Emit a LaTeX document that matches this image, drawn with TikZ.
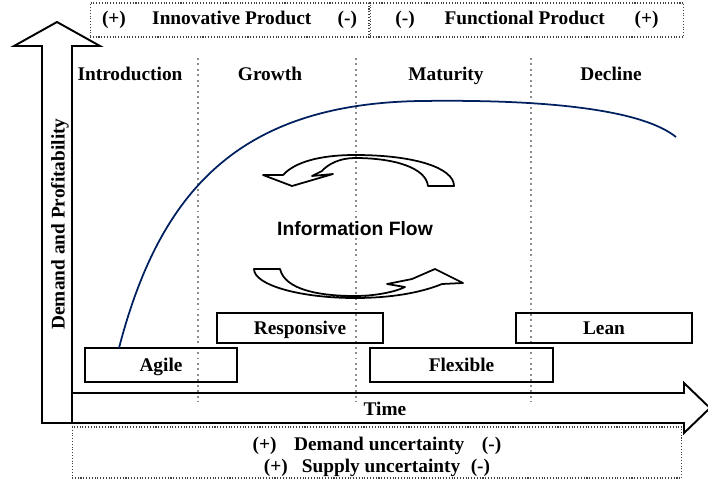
\documentclass[tikz,border=0pt]{standalone}
\usepackage{fontspec}
\setmainfont{Liberation Serif}
\newfontfamily\arialfont{Liberation Sans}
\usepackage{tikz}
\usetikzlibrary{positioning,calc}

\begin{document}
\begin{tikzpicture}[x=0.02cm, y=-0.02cm,
    txt/.style={font=\bfseries\fontsize{11}{12.5}\selectfont},
    chainbox/.style={draw, rectangle, line width=1.1pt, text height=7.5pt, text depth=0pt, txt},
    dotbox/.style={draw=black!75, densely dotted, line width=0.6pt, rectangle, inner sep=0pt, txt},
    phaseline/.style={draw=black!45, dotted, line width=1.1pt},
    bigarrow/.style={draw, line width=1.1pt, line join=miter},
    flowarrow/.style={draw, line width=1pt, line join=round}]
    \useasboundingbox (0,0) rectangle (708,481);

    % Product type
    \node [dotbox, minimum width=5.58cm, minimum height=0.68cm, text height=7.5pt, text depth=2pt] (innovbox) at (229.5,20) {(+)\hspace{15pt}Innovative Product\hspace{15pt}(-)};
    \node [dotbox, minimum width=6.28cm, minimum height=0.68cm, text height=7.5pt, text depth=2pt, right=0cm of innovbox] (funcbox) {(-)\hspace{17pt}Functional Product\hspace{17pt}(+)};

    % Axes
    \draw [bigarrow] (42,423) -- (42,46) -- (14,46) -- (57,22) -- (100,46) -- (72,46) -- (72,423) -- cycle;
    \draw [bigarrow] (72,393) -- (684,393) -- (684,383) -- (710,408) -- (684,433) -- (684,423) -- (72,423);
    \node [txt, rotate=90] (yaxis) at (60,224) {Demand and Profitability};
    \node [txt, anchor=base] (time) at (385,415) {Time};

    % Phases
    \foreach \x in {198,356,531}
        \draw [phaseline] (\x,58) -- (\x,402);
    \node [txt, anchor=base] (intro) at (130,80) {Introduction};
    \node [txt, anchor=base] (growth) at (270,80) {Growth};
    \node [txt, anchor=base] (maturity) at (446,80) {Maturity};
    \node [txt, anchor=base] (decline) at (611,80) {Decline};

    % Supply chain types
    \node [chainbox, minimum width=3.04cm, minimum height=0.68cm] (agile) at (161,365) {Agile};
    \node [chainbox, minimum width=3.32cm, minimum height=0.6cm] (responsive) at (300,328) {Responsive};
    \node [chainbox, minimum width=3.66cm, minimum height=0.68cm] (flexible) at (461.5,365) {Flexible};
    \node [chainbox, minimum width=3.52cm, minimum height=0.6cm] (lean) at (604,328) {Lean};

    % Life cycle curve
    \draw [line width=1pt, color={rgb,255:red,0;green,32;blue,96}] (119,348) .. controls (160,190) and (240,104) .. (420,101) .. controls (560,99) and (645,112) .. (676,137);

    % Information flow
    \draw [flowarrow] (454,186) -- (428,186) .. controls (426,168) and (395,158) .. (355,158) .. controls (340,158) and (328,164) .. (322,171) -- (312,176) -- (333,174) -- (292,186) -- (263,175) -- (283,175) .. controls (295,162) and (320,155) .. (355,155) .. controls (415,155) and (454,168) .. (454,186) -- cycle;
    \draw [flowarrow] (254,269) -- (280,269) .. controls (285,290) and (320,296) .. (355,296) .. controls (375,296) and (395,292) .. (405,287) -- (387,284) -- (412,279) -- (435,269) -- (463,283) -- (442,284) .. controls (420,293) and (390,298) .. (355,298) .. controls (300,298) and (254,285) .. (254,269) -- cycle;
    \node [font=\arialfont\bfseries\fontsize{11}{13}\selectfont] (info) at (355,229) {Information Flow};

    % Uncertainty
    \node [dotbox, minimum width=12.2cm, minimum height=1.02cm] (uncert) at (377,452.5) {};
    \node [txt, align=center] (uncerttxt) at (377,456.5) {(+)\hspace{10pt}Demand uncertainty\hspace{10pt}(-)\\(+)\hspace{8pt}Supply uncertainty\hspace{6pt}(-)};

\end{tikzpicture}
\end{document}
